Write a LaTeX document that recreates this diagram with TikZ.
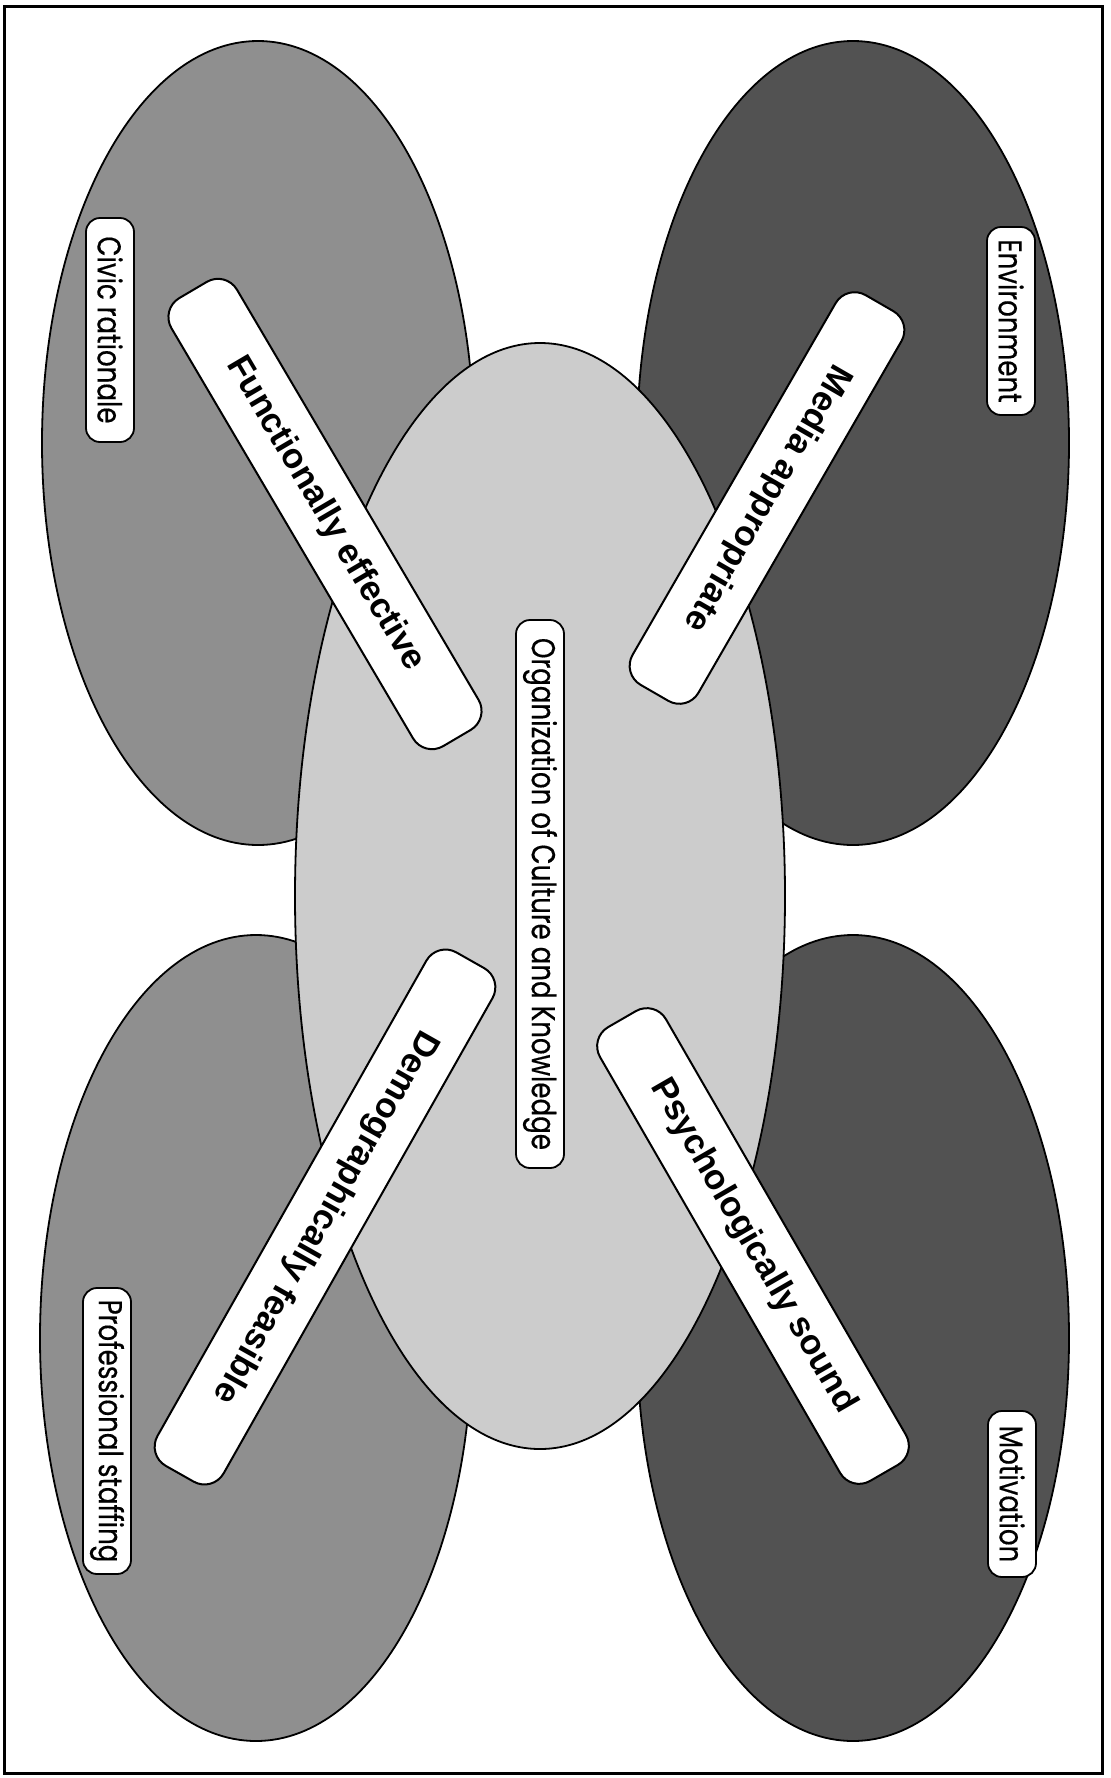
\documentclass[tikz,border=0pt]{standalone}
\usepackage{fontspec}
\usetikzlibrary{shapes.geometric}
\newfontfamily\labfont[FakeStretch=0.79,FakeBold=0.4]{Poppins}
\newfontfamily\barfont{Liberation Sans}
\definecolor{leftgray}{gray}{0.56}
\definecolor{rightgray}{gray}{0.32}
\definecolor{midgray}{gray}{0.8}
\begin{document}
\begin{tikzpicture}[x=0.5pt,y=-0.5pt,
  blob/.style={ellipse, draw=black, line width=0.9pt, inner sep=0pt},
  tag/.style={draw=black, line width=0.9pt, fill=white, rounded corners=7pt, inner sep=0pt,
    minimum height=24pt, font=\labfont\fontsize{16.5}{19}\selectfont, rotate=-90},
  bar/.style={draw=black, line width=1pt, fill=white, rounded corners=11pt, inner sep=0pt,
    minimum height=38pt, font=\barfont\bfseries\fontsize{17.5}{20}\selectfont}]
\useasboundingbox (0,0) rectangle (1110,1778);
\fill[white] (0,0) rectangle (1110,1778);
\draw[line width=1.5pt] (4,6) rectangle (1102,1773);
% outer ellipses
\node[blob, fill=leftgray, minimum width=216pt, minimum height=402pt] (eTL) at (258,443) {};
\node[blob, fill=rightgray, minimum width=216pt, minimum height=402pt] (eTR) at (853,443) {};
\node[blob, fill=leftgray, minimum width=216pt, minimum height=403pt] (eBL) at (256,1338) {};
\node[blob, fill=rightgray, minimum width=216pt, minimum height=403pt] (eBR) at (853,1338) {};
% central ellipse
\node[blob, fill=midgray, minimum width=245pt, minimum height=553pt] (eC) at (540,896) {};
% small labels
\node[tag, minimum width=112pt] (civic) at (110,330) {Civic rationale};
\node[tag, minimum width=94pt] (env) at (1011,321) {Environment};
\node[tag, minimum width=143pt] (prof) at (107,1431) {Professional staffing};
\node[tag, minimum width=83pt] (mot) at (1012,1494) {Motivation};
\node[tag, minimum width=274pt] (org) at (540,894) {Organization of Culture and Knowledge};
% bars
\node[bar, rotate=-59.5, minimum width=260pt] (fe) at (325,514) {Functionally effective};
\node[bar, rotate=-120, minimum width=225pt] (ma) at (767,498) {Media appropriate};
\node[bar, rotate=-119.5, minimum width=295pt] (df) at (325,1217) {Demographically feasible};
\node[bar, rotate=-60, minimum width=262pt] (ps) at (753,1246) {Psychologically sound};
\end{tikzpicture}
\end{document}
